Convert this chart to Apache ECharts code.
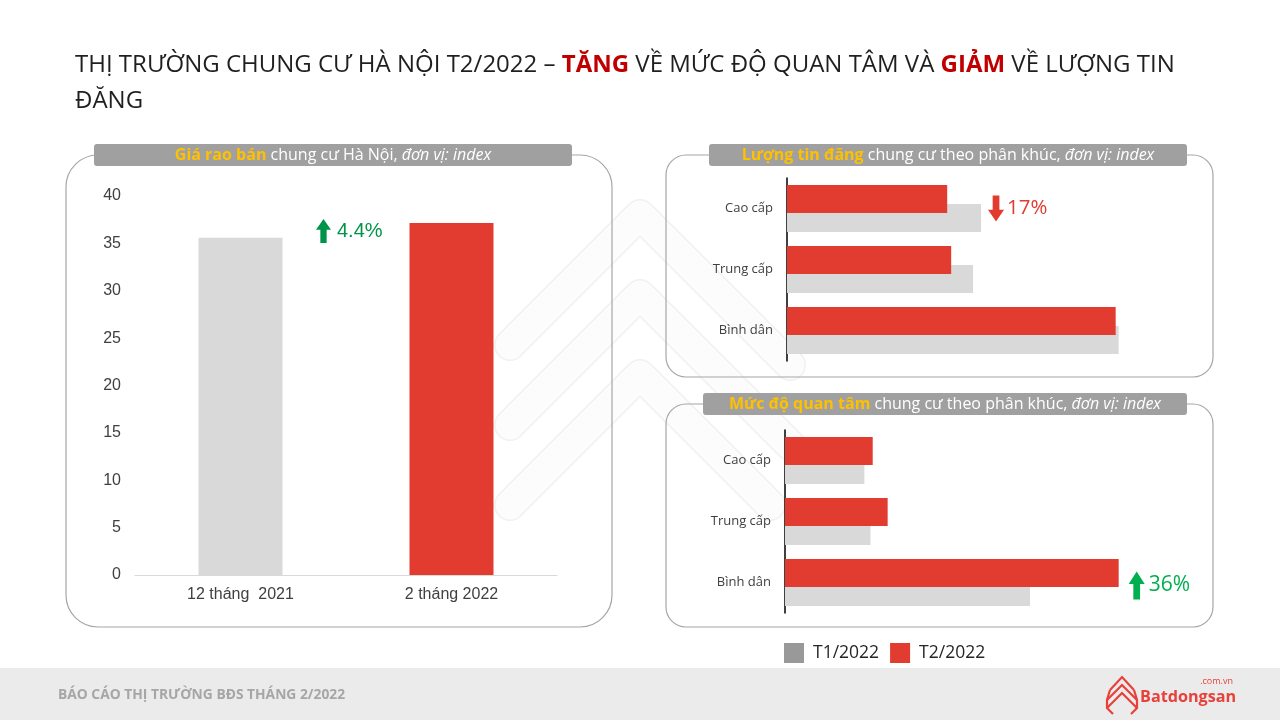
<!DOCTYPE html>
<html><head><meta charset="utf-8">
<script src="https://cdn.jsdelivr.net/npm/echarts@6/dist/echarts.min.js"></script>
<style>html,body{margin:0;padding:0;background:#fff}#c{width:1280px;height:720px}</style>
</head><body><div id="c"></div>
<script>
// ---- data ----
const priceCategories = ['12 tháng  2021', '2 tháng 2022'];
const priceValues = [35.6, 37.15];
const priceAxisMin = 0, priceAxisMax = 40, priceAxisStep = 5;
const segments = ['Bình dân', 'Trung cấp', 'Cao cấp'];
const listingsT1 = [100, 56.1, 58.5];
const listingsT2 = [99.1, 49.5, 48.3];
const interestT1 = [100, 34.9, 32.4];
const interestT2 = [136.2, 41.9, 35.8];
const legendNames = ['T1/2022', 'T2/2022'];
const priceChangeText = '4.4%';
const listingsChangeText = '17%';
const interestChangeText = '36%';

const GRAY = '#d9d9d9', RED = '#e23b30', LEGEND_GRAY = '#999999';
const SANS = '"Open Sans", "Noto Sans", sans-serif';
const ARIAL = '"Liberation Sans", Arial, sans-serif';

const chart = echarts.init(document.getElementById('c'), null, {renderer: 'canvas'});

const hCat = (gi) => ({
  type: 'category', gridIndex: gi, data: segments,
  axisLine: {show: true, lineStyle: {color: '#000', width: 1.5}},
  axisTick: {show: false},
  axisLabel: {fontFamily: SANS, fontSize: 13, color: '#404040', margin: 14}
});
const hVal = (gi, max) => ({
  type: 'value', gridIndex: gi, min: 0, max: max,
  axisLine: {show: false}, axisTick: {show: false}, axisLabel: {show: false}, splitLine: {show: false}
});
const hBar = (name, gi, data, color, z) => ({
  type: 'bar', name: name, xAxisIndex: gi, yAxisIndex: gi, data: data,
  barWidth: 28, barGap: '-32%', itemStyle: {color: color}, z: z, silent: true
});

chart.setOption({
  animation: false,
  grid: [
    {left: 135, top: 196, width: 422, height: 379},
    {left: 787, top: 178, width: 398, height: 183},
    {left: 785, top: 430, width: 392, height: 183}
  ],
  xAxis: [
    {type: 'category', gridIndex: 0, data: priceCategories,
     axisLine: {lineStyle: {color: '#d9d9d9'}}, axisTick: {show: false},
     axisLabel: {fontFamily: ARIAL, fontSize: 16, color: '#404040', margin: 12}},
    hVal(1, 120),
    hVal(2, 160)
  ],
  yAxis: [
    {type: 'value', gridIndex: 0, min: priceAxisMin, max: priceAxisMax, interval: priceAxisStep,
     axisLine: {show: false}, axisTick: {show: false}, splitLine: {show: false},
     axisLabel: {fontFamily: ARIAL, fontSize: 16, color: '#404040', margin: 14}},
    hCat(1),
    hCat(2)
  ],
  legend: {
    left: 779, top: 638, itemWidth: 20, itemHeight: 20, itemGap: 11, icon: 'rect',
    selectedMode: false,
    textStyle: {fontFamily: SANS, fontSize: 17.5, color: '#262626', padding: [0, 0, 0, 4]},
    data: [
      {name: legendNames[0], itemStyle: {color: LEGEND_GRAY}},
      {name: legendNames[1], itemStyle: {color: RED}}
    ]
  },
  series: [
    {type: 'bar', name: 'price', xAxisIndex: 0, yAxisIndex: 0, barWidth: 84, silent: true,
     data: priceValues.map((v, i) => ({value: v, itemStyle: {color: i === 0 ? GRAY : RED}}))},
    hBar(legendNames[1], 1, listingsT2, RED, 3),
    hBar(legendNames[0], 1, listingsT1, GRAY, 2),
    hBar(legendNames[1], 2, interestT2, RED, 3),
    hBar(legendNames[0], 2, interestT1, GRAY, 2)
  ]
});

// ---- decorations & annotations ----
function blockArrow(x, yTop, w, h, up, color) {
  const head = h * 0.45, sw = w * 0.42, cx = x + w / 2;
  let pts;
  if (up) {
    pts = [[cx, yTop], [x + w, yTop + head], [cx + sw / 2, yTop + head], [cx + sw / 2, yTop + h],
           [cx - sw / 2, yTop + h], [cx - sw / 2, yTop + head], [x, yTop + head]];
  } else {
    const yb = yTop + h;
    pts = [[cx, yb], [x + w, yb - head], [cx + sw / 2, yb - head], [cx + sw / 2, yTop],
           [cx - sw / 2, yTop], [cx - sw / 2, yb - head], [x, yb - head]];
  }
  return {type: 'polygon', shape: {points: pts}, style: {fill: color}, z: 50};
}
function panel(x, y, w, h, r) {
  return {type: 'rect', shape: {x: x, y: y, width: w, height: h, r: r},
          style: {fill: 'rgba(0,0,0,0)', stroke: '#a6a6a6', lineWidth: 1.2}, z: 5};
}
function header(x, y, w, h, bold, rest, ital) {
  const fs = 16;
  return [
    {type: 'rect', shape: {x: x, y: y, width: w, height: h, r: 3}, style: {fill: '#a0a0a0'}, z: 10},
    {type: 'text', x: x + w / 2, y: y + h / 2, z: 11,
     style: {text: '{b|' + bold + '}{n|' + rest + '}{i|' + ital + '}', align: 'center', verticalAlign: 'middle',
       rich: {
         b: {fontFamily: SANS, fontSize: fs, fontWeight: 'bold', fill: '#ffc000'},
         n: {fontFamily: SANS, fontSize: fs, fill: '#ffffff'},
         i: {fontFamily: SANS, fontSize: fs, fontStyle: 'italic', fill: '#ffffff'}
       }}}
  ];
}
function wm(points) {
  return [
    {type: 'polyline', shape: {points: points}, silent: true, z: 0,
     style: {stroke: '#f1f1f1', lineWidth: 32, lineCap: 'round', lineJoin: 'round', fill: null}},
    {type: 'polyline', shape: {points: points}, silent: true, z: 0,
     style: {stroke: '#fcfcfc', lineWidth: 29, lineCap: 'round', lineJoin: 'round', fill: null}}
  ];
}

const g = [];
// faint background watermark
g.push(...wm([[510, 345], [640, 215], [790, 365]]));
g.push(...wm([[510, 425], [640, 295], [790, 445]]));
g.push(...wm([[510, 505], [640, 375], [770, 505]]));
// title
g.push({type: 'text', left: 75, top: 53, z: 20, style: {
  text: '{n|THỊ TRƯỜNG CHUNG CƯ HÀ NỘI T2/2022 – }{r|TĂNG}{n| VỀ MỨC ĐỘ QUAN TÂM VÀ }{r|GIẢM}{n| VỀ LƯỢNG TIN}\n{n|ĐĂNG}',
  rich: {
    n: {fontFamily: SANS, fontSize: 24, fill: '#1f1f1f', lineHeight: 36},
    r: {fontFamily: SANS, fontSize: 24, fontWeight: 'bold', fill: '#c00000', lineHeight: 36}
  }}});
// panels
g.push(panel(66, 155, 546, 472, 32));
g.push(panel(666, 155, 547, 222, 20));
g.push(panel(666, 404, 547, 223, 20));
g.push(...header(94, 144, 478, 22, 'Giá rao bán', ' chung cư Hà Nội, ', 'đơn vị: index'));
g.push(...header(709, 144, 478, 22, 'Lượng tin đăng', ' chung cư theo phân khúc, ', 'đơn vị: index'));
g.push(...header(703, 393, 484, 22, 'Mức độ quan tâm', ' chung cư theo phân khúc, ', 'đơn vị: index'));
// footer
g.push({type: 'rect', shape: {x: 0, y: 668, width: 1280, height: 52}, style: {fill: '#ebebeb'}, z: 1});
g.push({type: 'text', x: 58, y: 695, z: 2, style: {text: 'BÁO CÁO THỊ TRƯỜNG BĐS THÁNG 2/2022',
  fontFamily: SANS, fontSize: 13.8, fontWeight: 'bold', fill: '#a6a6a6', verticalAlign: 'middle'}});
// logo
const LR = '#e8413a';
const logoLines = [
  [[1110, 690], [1122, 677], [1134, 690]],
  [[1107, 700], [1122, 685], [1137, 700]],
  [[1107, 708], [1122, 693], [1137, 708]],
  [[1110, 690], [1107, 700], [1107, 708], [1113, 714]],
  [[1134, 690], [1137, 700], [1137, 708], [1131, 714]]
];
logoLines.forEach(p => g.push({type: 'polyline', z: 3, shape: {points: p},
  style: {stroke: LR, lineWidth: 2.2, fill: null}}));
g.push({type: 'text', x: 1140, y: 697, z: 3, style: {text: 'Batdongsan', fontFamily: SANS, fontSize: 16.2,
  fontWeight: 'bold', fill: LR, verticalAlign: 'middle', letterSpacing: -1.3}});
g.push({type: 'text', x: 1233, y: 681, z: 3, style: {text: '.com.vn', fontFamily: SANS, fontSize: 9,
  fill: LR, align: 'right', verticalAlign: 'middle'}});

// annotations anchored on the data scales
const a0 = chart.convertToPixel({gridIndex: 0}, [0, 36.3]);
const a1 = chart.convertToPixel({gridIndex: 0}, [1, 36.3]);
const midX = (a0[0] + a1[0]) / 2;
g.push(blockArrow(midX - 30, a0[1] - 12, 15, 24, true, '#00944a'));
g.push({type: 'text', x: midX - 9, y: a0[1], z: 50, style: {text: priceChangeText, fontFamily: ARIAL,
  fontSize: 20, fill: '#00944a', verticalAlign: 'middle'}});

const b = chart.convertToPixel({gridIndex: 1}, [listingsT1[2], segments[2]]);
g.push(blockArrow(b[0] + 7, b[1] - 13, 16, 26, false, RED));
g.push({type: 'text', x: b[0] + 26, y: b[1], z: 50, style: {text: listingsChangeText, fontFamily: SANS,
  fontSize: 20.5, fill: RED, verticalAlign: 'middle'}});

const c = chart.convertToPixel({gridIndex: 2}, [interestT2[0], segments[0]]);
g.push(blockArrow(c[0] + 10, c[1] - 11, 16, 28, true, '#00b050'));
g.push({type: 'text', x: c[0] + 30, y: c[1] + 3, z: 50, style: {text: interestChangeText, fontFamily: SANS,
  fontSize: 21, fill: '#00b050', verticalAlign: 'middle'}});

chart.setOption({graphic: g});
</script>
</body></html>
